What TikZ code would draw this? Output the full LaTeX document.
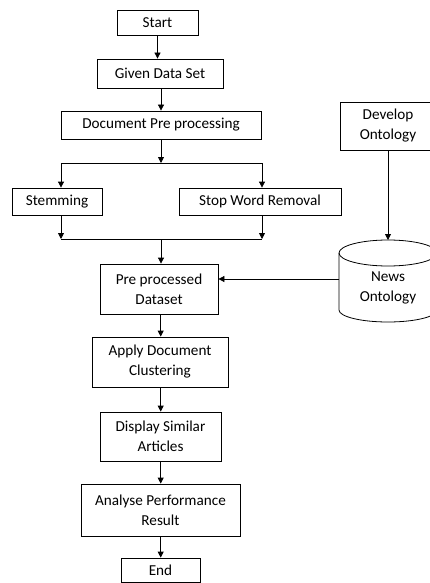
\documentclass[tikz,border=0pt]{standalone}
\usepackage{fontspec}
\setmainfont{Carlito}
\usetikzlibrary{arrows.meta}
\begin{document}
\begin{tikzpicture}[x=1pt,y=-1pt,
  box/.style={draw, line width=0.8pt, inner sep=0pt, align=center,
    font=\fontsize{15.2}{20}\selectfont},
  arr/.style={-{Triangle[length=6pt,width=6pt]}, line width=0.8pt},
  ln/.style={line width=0.8pt}]
\useasboundingbox (0,0) rectangle (429,583);
\node[box, minimum width=81pt, minimum height=25pt] (start) at (157.5,22.5) {Start};
\node[box, minimum width=126pt, minimum height=29pt] (given) at (160,73.5) {Given Data Set};
\node[box, minimum width=200pt, minimum height=28pt] (doc) at (161,125) {Document Pre processing};
\node[box, minimum width=90pt, minimum height=27pt] (stem) at (57,201.5) {Stemming};
\node[box, minimum width=162pt, minimum height=27pt] (stop) at (260,201.5) {Stop Word Removal};
\node[box, minimum width=118pt, minimum height=50pt] (pre) at (159,289) {Pre processed\\Dataset};
\node[box, minimum width=136pt, minimum height=50pt] (apply) at (160,362) {Apply Document\\Clustering};
\node[box, minimum width=121pt, minimum height=49pt] (disp) at (160.5,436.5) {Display Similar\\Articles};
\node[box, minimum width=159pt, minimum height=52pt] (anal) at (160.5,510) {Analyse Performance\\Result};
\node[box, minimum width=79pt, minimum height=24pt] (end) at (160.5,570) {End};
\node[box, minimum width=96pt, minimum height=48pt] (dev) at (388,126) {Develop\\Ontology};
% cylinder
\draw[ln] (388,253) ellipse [x radius=49pt, y radius=13pt];
\draw[ln] (339,253) -- (339,310) arc[start angle=180, end angle=360, x radius=49pt, y radius=12pt] -- (437,253);
\node[align=center, inner sep=0pt, font=\fontsize{15.2}{20}\selectfont] (cyl) at (388,288) {News\\Ontology};
\coordinate (cyltop) at (388,240);
\coordinate (cylW) at (339,279);
% connectors
\coordinate (split) at (161,163);
\coordinate (splitL) at (61,163);
\coordinate (splitR) at (262,163);
\coordinate (mergeL) at (61,239);
\coordinate (mergeR) at (262,239);
\coordinate (merge) at (161,239);
\draw[arr] (start) -- (start.south |- given.north);
\draw[arr] (given.south -| doc.north) -- (doc.north);
\draw[arr] (doc.south) -- (split);
\draw[ln] (splitL) -- (splitR);
\draw[arr] (splitL) -- (splitL |- stem.north);
\draw[arr] (splitR) -- (splitR |- stop.north);
\draw[arr] (splitL |- stem.south) -- (mergeL);
\draw[arr] (splitR |- stop.south) -- (mergeR);
\draw[ln] (mergeL) -- (mergeR);
\draw[arr] (merge) -- (merge |- pre.north);
\draw[arr] (160.7,0 |- pre.south) -- (160.7,0 |- apply.north);
\draw[arr] (160.7,0 |- apply.south) -- (160.7,0 |- disp.north);
\draw[arr] (160.7,0 |- disp.south) -- (160.7,0 |- anal.north);
\draw[arr] (160.7,0 |- anal.south) -- (160.7,0 |- end.north);
\draw[arr] (cyltop |- dev.south) -- (cyltop);
\draw[arr] (cylW) -- (pre.east |- cylW);
\end{tikzpicture}
\end{document}
